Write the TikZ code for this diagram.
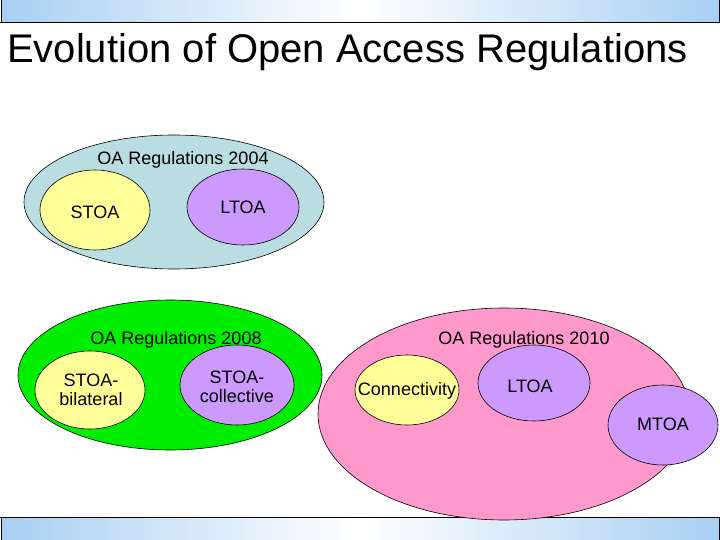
\documentclass[tikz,border=0pt]{standalone}
\usepackage{fontspec}
\setmainfont{Liberation Sans}
\begin{document}
\begin{tikzpicture}[x=1pt,y=-1pt,
  lab/.style={font=\fontsize{18}{19}\selectfont,align=center}]
\definecolor{bg04}{HTML}{B9DDE0}
\definecolor{yel}{HTML}{FFFF99}
\definecolor{pur}{HTML}{CC99FF}
\definecolor{grn}{HTML}{00EE00}
\definecolor{pnk}{HTML}{FF99CC}
\definecolor{barB}{HTML}{A8CFF2}
\useasboundingbox (0,0) rectangle (720,540);
\fill[white] (0,0) rectangle (720,540);
% bars
\shade[left color=barB,right color=barB,middle color=white] (1,1) rectangle (719,22);
\draw[line width=0.8pt] (1,22) -- (1,0) (719,0) -- (719,22) (0,22) -- (720,22);
\shade[left color=barB,right color=barB,middle color=white] (1,517) rectangle (719,540);
\draw[line width=0.8pt] (0,517) -- (720,517) (1,517) -- (1,540) (719,517) -- (719,540);
\node[font=\fontsize{40}{44}\selectfont,anchor=west,inner sep=0pt] (title) at (7,52) {Evolution of Open Access Regulations};
% 2004
\filldraw[fill=bg04,line width=0.6pt] (174,202) ellipse [x radius=150,y radius=67];
\filldraw[fill=yel,line width=0.6pt] (95,210) ellipse [x radius=55,y radius=40];
\filldraw[fill=pur,line width=0.6pt] (243,207) ellipse [x radius=56,y radius=38];
\node[lab] (r04) at (183,160) {OA Regulations 2004};
\node[lab] (s04) at (95,212) {STOA};
\node[lab] (l04) at (243,207) {LTOA};
% 2008
\filldraw[fill=grn,line width=0.6pt] (170,375) ellipse [x radius=152,y radius=75];
\filldraw[fill=yel,line width=0.6pt] (90,390) ellipse [x radius=55,y radius=39];
\filldraw[fill=pur,line width=0.6pt] (237,385) ellipse [x radius=57,y radius=40];
\node[lab] (r08) at (176,340) {OA Regulations 2008};
\node[lab] (sb) at (91,390) {STOA-\\bilateral};
\node[lab] (sc) at (237,387) {STOA-\\collective};
% 2010
\filldraw[fill=pnk,line width=0.6pt] (504,414) ellipse [x radius=186,y radius=106];
\filldraw[fill=yel,line width=0.6pt] (407,390) ellipse [x radius=52,y radius=35];
\filldraw[fill=pur,line width=0.6pt] (534,383) ellipse [x radius=56,y radius=38];
\filldraw[fill=pur,line width=0.6pt] (663,425) ellipse [x radius=55,y radius=40];
\node[lab] (r10) at (524,340) {OA Regulations 2010};
\node[lab] (con) at (407,391) {Connectivity};
\node[lab] (l10) at (530,386) {LTOA};
\node[lab] (mt) at (663,424) {MTOA};
\end{tikzpicture}
\end{document}
